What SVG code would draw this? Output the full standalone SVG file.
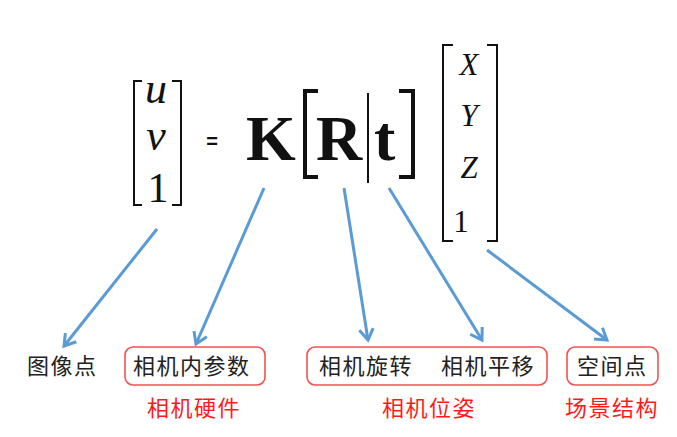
<svg xmlns="http://www.w3.org/2000/svg" width="677" height="437" viewBox="0 0 677 437">
<defs>
<style>
.math{font-family:"Liberation Serif","Times New Roman",serif;fill:#111}
.it{font-style:italic}
.br{fill:none;stroke:#111;stroke-width:2}
.bbr{fill:none;stroke:#111;stroke-width:4}
.cn{font-family:"Noto Sans CJK SC","Microsoft YaHei",sans-serif;font-size:22px;letter-spacing:1.5px}
.blk{fill:#222}
.red{fill:#ff1a1a}
.box{fill:none;stroke:#f25252;stroke-width:1.6}
.arr{fill:none;stroke:#5b9bd5;stroke-width:3;marker-end:url(#ah)}
</style>
<marker id="ah" markerUnits="userSpaceOnUse" markerWidth="18" markerHeight="18" viewBox="0 0 18 18" refX="15" refY="9" orient="auto">
<path d="M4,2 L15,9 L4,16" fill="none" stroke="#5b9bd5" stroke-width="3" stroke-linejoin="miter"/>
</marker>
</defs>
<rect width="677" height="437" fill="#ffffff"/>

<g id="equation">
<g id="uv1">
<path class="br" d="M142,81 H134 V205 H142"/>
<path class="br" d="M172,81 H181 V205 H172"/>
<text class="math it" x="156" y="103" font-size="44" text-anchor="middle">u</text>
<text class="math it" x="156" y="150" font-size="44" text-anchor="middle">v</text>
<text class="math" x="158" y="202" font-size="42" text-anchor="middle">1</text>
</g>
<text x="212" y="148" font-family="Liberation Sans,Arial,sans-serif" font-weight="bold" font-size="20" fill="#111" text-anchor="middle">=</text>
<g id="KRt">
<text class="math" x="246" y="160" font-size="64" font-weight="bold">K</text>
<path class="bbr" d="M318,91 H305 V177 H318"/>
<text class="math" x="316" y="160" font-size="64" font-weight="bold">R</text>
<path d="M368,93 V183" stroke="#111" stroke-width="2"/>
<text class="math" x="374" y="160" font-size="64" font-weight="bold">t</text>
<path class="bbr" d="M399,91 H413 V177 H399"/>
</g>
<g id="XYZ1">
<path class="br" d="M453,45 H443 V241 H453"/>
<path class="br" d="M487,45 H497 V241 H487"/>
<text class="math it" x="469" y="75" font-size="31" text-anchor="middle">X</text>
<text class="math it" x="469" y="126" font-size="31" text-anchor="middle">Y</text>
<text class="math it" x="469" y="178" font-size="31" text-anchor="middle">Z</text>
<text class="math" x="461" y="232" font-size="31" text-anchor="middle">1</text>
</g>
</g>

<g id="connectors">
<line class="arr" x1="157" y1="229" x2="64" y2="346"/>
<line class="arr" x1="264" y1="188" x2="196" y2="344"/>
<line class="arr" x1="344" y1="188" x2="368" y2="340"/>
<line class="arr" x1="389" y1="188" x2="482" y2="340"/>
<line class="arr" x1="487" y1="250" x2="607" y2="340"/>
</g>

<g id="node-image-point">
<text class="cn blk" x="27" y="374">图像点</text>
</g>
<g id="node-intrinsics">
<rect class="box" x="125" y="347" width="140" height="38" rx="8"/>
<text class="cn blk" x="133" y="374">相机内参数</text>
<text class="cn red" x="147" y="416">相机硬件</text>
</g>
<g id="node-pose">
<rect class="box" x="307" y="347" width="240" height="38" rx="8"/>
<text class="cn blk" x="319" y="374">相机旋转</text>
<text class="cn blk" x="441" y="374">相机平移</text>
<text class="cn red" x="382" y="416">相机位姿</text>
</g>
<g id="node-space-point">
<rect class="box" x="567" y="347" width="91" height="38" rx="8"/>
<text class="cn blk" x="577" y="374">空间点</text>
<text class="cn red" x="565" y="416">场景结构</text>
</g>
</svg>
